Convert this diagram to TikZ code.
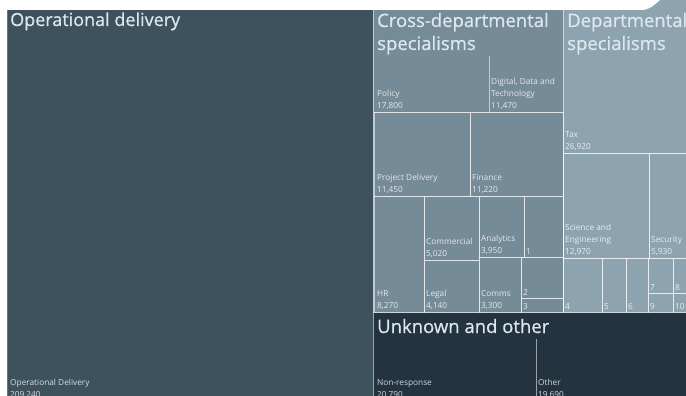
\documentclass[tikz,border=0pt]{standalone}
\usepackage{fontspec}
\setmainfont{Open Sans}
\newfontfamily\ttlfont[FakeBold=0.7]{Open Sans}
\definecolor{opc}{HTML}{3E525E}
\definecolor{crc}{HTML}{768B98}
\definecolor{dpc}{HTML}{8EA3B0}
\definecolor{unc}{HTML}{233440}
\definecolor{ttc}{HTML}{DCE8EE}
\definecolor{pinkc}{HTML}{D0407A}
\tikzset{
  cellbox/.style={draw=white, draw opacity=0.55, line width=0.9pt},
  lab/.style={anchor=south west, inner xsep=0pt, inner ysep=2.5pt, align=left, text=white, text opacity=0.8,
    font=\fontsize{8.3}{11.7}\selectfont},
  ttl/.style={anchor=base west, inner sep=0pt, align=left, text=ttc, font=\ttlfont\fontsize{18.5}{23}\selectfont}
}
\begin{document}
\begin{tikzpicture}[x=1pt,y=-1pt]
\useasboundingbox (0,0) rectangle (686,396);
\fill[white] (0,0) rectangle (686,396);
% group fills
\fill[opc] (8,0) rectangle (373,400);
\fill[crc] (373,0) rectangle (563,312);
\fill[dpc] (563,0) rectangle (686,312);
\fill[unc] (373,312) rectangle (686,400);
% cells cross-departmental
\draw[cellbox] (489,56) -- (489,112);
\draw[cellbox] (374,112) -- (563,112);
\draw[cellbox] (374,112) rectangle (470,196);
\draw[cellbox] (470,112) rectangle (563,196);
\draw[cellbox] (374,196) rectangle (424,312);
\draw[cellbox] (424,196) rectangle (479,260);
\draw[cellbox] (424,260) rectangle (479,312);
\draw[cellbox] (479,196) rectangle (524,257);
\draw[cellbox] (524,196) rectangle (563,257);
\draw[cellbox] (479,257) rectangle (521,312);
\draw[cellbox] (521,257) rectangle (563,298);
\draw[cellbox] (521,298) rectangle (563,312);
% departmental
\draw[cellbox] (563,153) -- (690,153);
\draw[cellbox] (563,153) rectangle (649,258);
\draw[cellbox] (649,153) rectangle (690,258);
\draw[cellbox] (563,258) rectangle (602,312);
\draw[cellbox] (602,258) rectangle (626,312);
\draw[cellbox] (626,258) rectangle (648,312);
\draw[cellbox] (648,258) rectangle (673,293);
\draw[cellbox] (673,258) rectangle (690,293);
\draw[cellbox] (648,293) rectangle (673,312);
\draw[cellbox] (673,293) rectangle (690,312);
% group boundaries
\draw[cellbox] (373.5,0) -- (373.5,400);
\draw[cellbox] (563,0) -- (563,312);
\draw[cellbox] (373,312.5) -- (690,312.5);
\draw[cellbox] (536,339) -- (536,400);
% white top band with curved corner and left margin
\fill[white] (0,0) -- (0,400) -- (7,400) -- (7,10) -- (641,10) .. controls (650,10) and (654,5) .. (660,0) -- cycle;
\draw[pinkc, line width=1pt] (7.5,10) -- (7.5,400);
% titles
\node[ttl, font=\ttlfont\fontsize{18}{23}\selectfont] (topT) at (10,26) {Operational delivery};
\node[ttl] (crT) at (377,50) {Cross-departmental\\specialisms};
\node[ttl] (dpT) at (567,50) {Departmental\\specialisms};
\node[ttl] (unT) at (377,333) {Unknown and other};
% labels
\node[lab] (opL) at (10,401) {Operational Delivery\\209,240};
\node[lab] (polL) at (377,112) {Policy\\17,800};
\node[lab] (ddtL) at (491,112) {Digital, Data and\\Technology\\11,470};
\node[lab] (pdL) at (377,196) {Project Delivery\\11,450};
\node[lab] (finL) at (472,196) {Finance\\11,220};
\node[lab] (hrL) at (377,312) {HR\\8,270};
\node[lab] (comL) at (426,260) {Commercial\\5,020};
\node[lab] (legL) at (426,312) {Legal\\4,140};
\node[lab] (anaL) at (481,257) {Analytics\\3,950};
\node[lab] (oneL) at (526,257) {1};
\node[lab] (cmsL) at (481,312) {Comms\\3,300};
\node[lab] (twoL) at (523,298) {2};
\node[lab] (thrL) at (523,312) {3};
\node[lab] (taxL) at (565,153) {Tax\\26,920};
\node[lab] (sciL) at (565,258) {Science and\\Engineering\\12,970};
\node[lab] (secL) at (651,258) {Security\\5,930};
\node[lab] (fourL) at (565,312) {4};
\node[lab] (fiveL) at (604,312) {5};
\node[lab] (sixL) at (628,312) {6};
\node[lab] (sevL) at (650,293) {7};
\node[lab] (eigL) at (675,293) {8};
\node[lab] (ninL) at (650,312) {9};
\node[lab] (tenL) at (675,312) {10};
\node[lab] (nrL) at (377,401) {Non-response\\20,790};
\node[lab] (othL) at (538,401) {Other\\19,690};
\end{tikzpicture}
\end{document}
